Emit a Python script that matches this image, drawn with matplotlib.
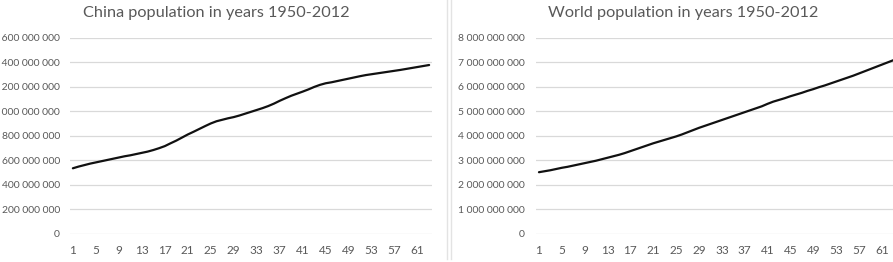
import matplotlib.pyplot as plt
from matplotlib.lines import Line2D
from matplotlib.ticker import FuncFormatter, MultipleLocator

# year index 1..63 (1950-2012)
years = list(range(1, 64))

# China population, millions
china_mln = [534, 548, 560, 572, 582, 592, 602, 612, 622, 632,
             640, 650, 660, 670, 683, 698, 715, 738, 760, 785,
             810, 832, 855, 878, 900, 918, 930, 942, 952, 965,
             980, 995, 1010, 1025, 1042, 1062, 1085, 1106, 1126, 1143,
             1160, 1178, 1198, 1215, 1228, 1236, 1246, 1256, 1266, 1276,
             1286, 1295, 1302, 1309, 1316, 1323, 1330, 1337, 1345, 1353,
             1361, 1369, 1377]

# World population, billions
world_bln = [2.51, 2.55, 2.59, 2.64, 2.69, 2.73, 2.78, 2.83, 2.88, 2.93,
             2.98, 3.04, 3.10, 3.16, 3.22, 3.29, 3.37, 3.45, 3.53, 3.61,
             3.69, 3.76, 3.83, 3.90, 3.97, 4.05, 4.14, 4.23, 4.32, 4.40,
             4.48, 4.56, 4.64, 4.72, 4.80, 4.88, 4.96, 5.04, 5.12, 5.20,
             5.30, 5.39, 5.46, 5.53, 5.61, 5.68, 5.75, 5.83, 5.90, 5.98,
             6.05, 6.13, 6.21, 6.29, 6.37, 6.45, 6.54, 6.63, 6.72, 6.81,
             6.90, 6.99, 7.08]

china = [v * 1e6 for v in china_mln]
world = [v * 1e9 for v in world_bln]

plt.rcParams['font.family'] = ['Lato', 'DejaVu Sans']

grey_txt = '#595959'
grid_col = '#d9d9d9'


def space_fmt(v, pos):
    return f"{v:,.0f}".replace(",", " ")


fig = plt.figure(figsize=(8.93, 2.62), dpi=100)
ax1 = fig.add_axes([70 / 893, 28.3 / 262, 362 / 893, 196 / 262])
ax2 = fig.add_axes([536.1 / 893, 28.3 / 262, 360 / 893, 196 / 262])

# each chart box title is centred on its box, not on the plot area
panels = [
    (ax1, china, 'China population in years 1950-2012', 1.6e9, 2e8, 7.2, 216),
    (ax2, world, 'World population in years 1950-2012', 8e9, 1e9, 8.0, 683),
]

for ax, vals, title, top, step, pad, tx in panels:
    ax.plot(years, vals, color='#111111', lw=1.6, solid_capstyle='round')
    ax.set_xlim(0.5, 63.5)
    ax.set_ylim(0, top)
    ax.set_xticks(list(range(1, 64, 4)))
    ax.yaxis.set_major_locator(MultipleLocator(step))
    ax.yaxis.set_major_formatter(FuncFormatter(space_fmt))
    ax.grid(axis='y', color=grid_col, lw=0.9)
    ax.set_axisbelow(True)
    for s in ax.spines.values():
        s.set_visible(False)
    ax.tick_params(axis='both', length=0, colors=grey_txt)
    ax.tick_params(axis='y', pad=pad, labelsize=7.5)
    ax.tick_params(axis='x', pad=8, labelsize=8.5)
    fig.text(tx / 893, 1 - 13.5 / 262, title, color=grey_txt, fontsize=11.7,
             ha='center', va='center')

# frame borders between the two chart boxes
fig.add_artist(Line2D([446.7 / 893, 446.7 / 893], [3 / 262, 1], color='#e3e3e3', lw=1))
fig.add_artist(Line2D([450.5 / 893, 450.5 / 893], [3 / 262, 1], color='#e3e3e3', lw=1))

fig.savefig('out.png', dpi=100)
